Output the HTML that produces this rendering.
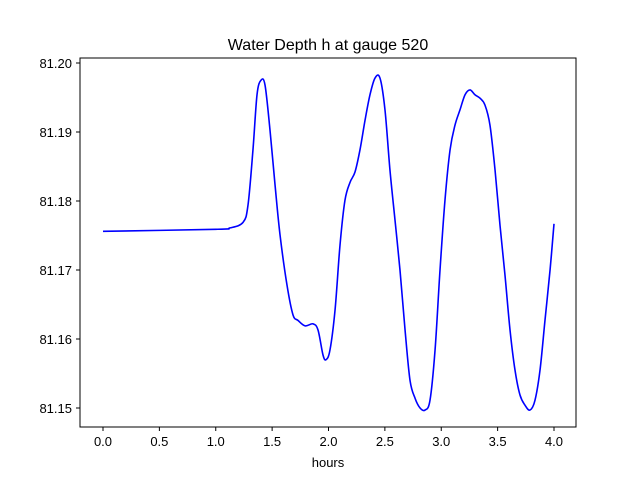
<!DOCTYPE html>
<html><head><meta charset="utf-8"><style>
body{margin:0;background:#fff;}
svg{display:block;font-family:"Liberation Sans","DejaVu Sans",sans-serif;}
</style></head><body>
<svg id="chart" width="640" height="480">
<rect width="640" height="480" fill="#fff"/>
<text x="328" y="50" font-size="16" text-anchor="middle">Water Depth h at gauge 520</text>
<g id="xt"></g>
<g id="yt"></g>
<path id="line" fill="none" stroke="#0000ff" stroke-width="1.6" stroke-linejoin="round"/>
<rect x="80" y="58" width="496" height="369" fill="none" stroke="#000" stroke-width="1"/>
<text x="328" y="467" font-size="13" text-anchor="middle">hours</text>
</svg>
<script>
const times=[0,1.0,1.126,1.242,1.286,1.33,1.366,1.401,1.437,1.481,1.526,1.570,1.632,1.685,1.729,1.792,1.863,1.907,1.951,1.978,2.013,2.058,2.102,2.146,2.191,2.235,2.279,2.324,2.368,2.412,2.457,2.501,2.545,2.590,2.634,2.679,2.723,2.768,2.812,2.856,2.900,2.945,2.989,3.033,3.078,3.122,3.166,3.211,3.255,3.299,3.344,3.388,3.432,3.477,3.521,3.565,3.610,3.654,3.698,3.743,3.787,3.831,3.876,3.920,3.965,4.0];
const depths=[81.1756,81.1759,81.1761,81.1769,81.1794,81.1874,81.1954,81.1975,81.1968,81.1903,81.1823,81.1751,81.1678,81.1635,81.1627,81.1619,81.1622,81.1613,81.1577,81.1570,81.1584,81.1642,81.1736,81.1801,81.1827,81.1842,81.1874,81.1917,81.1954,81.1978,81.1978,81.1932,81.1845,81.1772,81.1700,81.1613,81.1540,81.1514,81.1500,81.1497,81.1511,81.1584,81.1700,81.1801,81.1874,81.1910,81.1932,81.1954,81.1961,81.1954,81.1949,81.1939,81.1910,81.1845,81.1765,81.1693,81.1613,81.1555,81.1519,81.1504,81.1497,81.1511,81.1555,81.1627,81.1700,81.1767];
const xTicks=[0,0.5,1.0,1.5,2.0,2.5,3.0,3.5,4.0];
const xTickLabels=["0.0","0.5","1.0","1.5","2.0","2.5","3.0","3.5","4.0"];
const yTicks=[81.15,81.16,81.17,81.18,81.19,81.20];
const yTickLabels=["81.15","81.16","81.17","81.18","81.19","81.20"];
const X=t=>103+t*112.75;
const Y=v=>408-(v-81.15)/0.05*345;
const NS="http://www.w3.org/2000/svg";
const xt=document.getElementById('xt'),yt=document.getElementById('yt');
xTicks.forEach((t,i)=>{
  const l=document.createElementNS(NS,'line');
  l.setAttribute('x1',X(t));l.setAttribute('x2',X(t));l.setAttribute('y1',427);l.setAttribute('y2',431);l.setAttribute('stroke','#000');
  
  
  xt.appendChild(l);
  const s=document.createElementNS(NS,'text');
  s.setAttribute('x',X(t));s.setAttribute('y',446);s.setAttribute('font-size','13');s.setAttribute('text-anchor','middle');
  s.textContent=xTickLabels[i];
  
  
  xt.appendChild(s);
});
yTicks.forEach((v,i)=>{
  const l=document.createElementNS(NS,'line');
  l.setAttribute('x1',76);l.setAttribute('x2',80);l.setAttribute('y1',Y(v));l.setAttribute('y2',Y(v));l.setAttribute('stroke','#000');
  
  
  yt.appendChild(l);
  const s=document.createElementNS(NS,'text');
  s.setAttribute('x',72);s.setAttribute('y',Y(v)+5);s.setAttribute('font-size','13');s.setAttribute('text-anchor','end');
  s.textContent=yTickLabels[i];
  
  
  yt.appendChild(s);
});
const pts=times.map((t,i)=>[X(t),Y(depths[i])]);
let d='M'+pts[0][0]+','+pts[0][1];
for(let i=0;i<pts.length-1;i++){
  const p0=pts[Math.max(0,i-1)],p1=pts[i],p2=pts[i+1],p3=pts[Math.min(pts.length-1,i+2)];
  const c1=[p1[0]+(p2[0]-p0[0])/6,p1[1]+(p2[1]-p0[1])/6];
  const c2=[p2[0]-(p3[0]-p1[0])/6,p2[1]-(p3[1]-p1[1])/6];
  d+=' C'+c1+' '+c2+' '+p2;
}
document.getElementById('line').setAttribute('d',d);
</script>
</body></html>
